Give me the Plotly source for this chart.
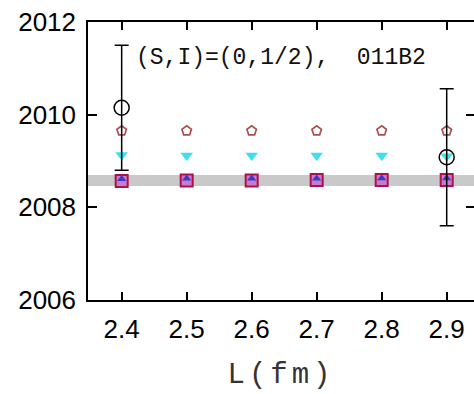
import plotly.graph_objects as go

# Box size L (fm) and energy levels for the (S,I)=(0,1/2) channel
L = [2.4, 2.5, 2.6, 2.7, 2.8, 2.9]
level_pentagon = [2009.65, 2009.65, 2009.65, 2009.65, 2009.65, 2009.65]
level_tri_down = [2009.13, 2009.12, 2009.12, 2009.12, 2009.12, 2009.10]
level_square = [2008.57, 2008.58, 2008.58, 2008.59, 2008.59, 2008.59]
level_tri_up = [2008.61, 2008.62, 2008.62, 2008.62, 2008.63, 2008.63]

# Lattice points with statistical errors
L_lat = [2.4, 2.9]
E_lat = [2010.15, 2009.08]
E_lat_err = [1.35, 1.48]

# Threshold band
band_lo = 2008.46
band_hi = 2008.70

y_ticks = [2006, 2008, 2010, 2012]
x_ticks = L
label_text = "(S,I)=(0,1/2),  011B2"
x_title = "L(fm)"

fig = go.Figure()

fig.add_shape(type="rect", xref="paper", yref="y", x0=0, x1=1,
              y0=band_lo, y1=band_hi, fillcolor="#c9c9c9",
              line=dict(width=0), layer="below")

fig.add_trace(go.Scatter(
    x=L, y=level_pentagon, mode="markers",
    marker=dict(symbol="pentagon-open", size=10, color="#a8504f",
                line=dict(width=1.7, color="#a8504f"))))
fig.add_trace(go.Scatter(
    x=L, y=level_tri_down, mode="markers",
    marker=dict(symbol="triangle-down", size=11, color="#3fe0ee",
                line=dict(width=0))))
fig.add_trace(go.Scatter(
    x=L, y=level_square, mode="markers",
    marker=dict(symbol="square", size=12, color="rgba(200,60,200,0.55)",
                line=dict(width=2, color="#b0104a"))))
fig.add_trace(go.Scatter(
    x=L, y=level_tri_up, mode="markers",
    marker=dict(symbol="triangle-up", size=8, color="#3a3ad0",
                line=dict(width=0))))
fig.add_trace(go.Scatter(
    x=L_lat, y=E_lat, mode="markers",
    error_y=dict(type="data", array=E_lat_err, visible=True,
                 color="black", thickness=1.5, width=7),
    marker=dict(symbol="circle-open", size=15, color="black",
                line=dict(width=1.5, color="black"))))

fig.add_annotation(x=0.12, xref="paper", y=2011.22, yref="y",
                   text=label_text, showarrow=False, xanchor="left",
                   yanchor="middle",
                   font=dict(family="Liberation Mono", size=23, color="#111"))

axis_font = dict(family="Liberation Sans, Arial", size=26, color="black")

fig.update_layout(
    width=474, height=394,
    margin=dict(l=88, r=0, t=22, b=94),
    plot_bgcolor="white", paper_bgcolor="white",
    showlegend=False,
    xaxis=dict(
        range=[2.3482, 2.942], tickvals=x_ticks,
        ticktext=[f"{v:.1f}" for v in x_ticks],
        ticks="inside", ticklen=8, tickwidth=1.5, tickcolor="black",
        showline=True, linecolor="black", linewidth=1.5, mirror="ticks",
        showgrid=False, zeroline=False, tickfont=axis_font,
        ticklabelstandoff=5,
        title=dict(text='<span style="letter-spacing:4px">' + x_title + '</span>',
                   standoff=20,
                   font=dict(family="Liberation Mono", size=29, color="#333"))),
    yaxis=dict(
        range=[2006, 2012], tickvals=y_ticks,
        ticks="inside", ticklen=9, tickwidth=1.5, tickcolor="black",
        showline=True, linecolor="black", linewidth=1.5, mirror=False,
        showgrid=False, zeroline=False, tickfont=axis_font,
        ticklabelstandoff=5),
    yaxis2=dict(
        range=[2006, 2012], tickvals=y_ticks, overlaying="y", side="right",
        ticks="inside", ticklen=8, tickwidth=1.5, tickcolor="black",
        showticklabels=False, showline=False, showgrid=False, zeroline=False),
)

# invisible trace to activate the right-hand tick axis
fig.add_trace(go.Scatter(x=[L[0]], y=[y_ticks[0]], yaxis="y2", mode="markers",
                         marker=dict(opacity=0), hoverinfo="skip"))

fig.write_html("out.html")
